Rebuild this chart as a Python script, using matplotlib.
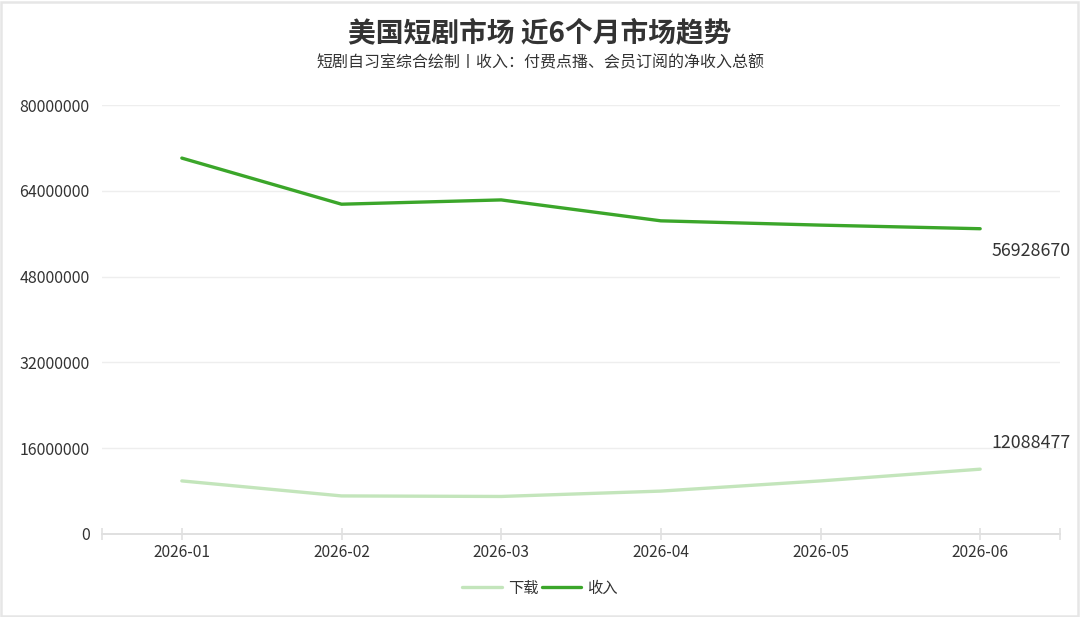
import matplotlib
matplotlib.use("Agg")
import matplotlib.pyplot as plt
from matplotlib.patches import Rectangle

plt.rcParams["font.family"] = ["Noto Sans CJK SC", "DejaVu Sans"]

months = ["2026-01", "2026-02", "2026-03", "2026-04", "2026-05", "2026-06"]
downloads = [9900000, 7100000, 7000000, 8000000, 9900000, 12088477]
revenue = [70100000, 61500000, 62300000, 58400000, 57600000, 56928670]
series_names = ["下载", "收入"]
y_ticks = [0, 16000000, 32000000, 48000000, 64000000, 80000000]

title = "美国短剧市场 近6个月市场趋势"
subtitle = "短剧自习室综合绘制丨收入：付费点播、会员订阅的净收入总额"

COLOR_DOWNLOAD = "#c3e5bb"
COLOR_REVENUE = "#3ba62a"
TEXT = "#333333"
GRID = "#eeeeee"
AXIS = "#e0e0e0"

W, H = 1080, 617
fig = plt.figure(figsize=(W / 100, H / 100), dpi=100)
fig.patch.set_facecolor("white")

# outer frame
fig.add_artist(Rectangle((1 / W, 1 / H), 1 - 3 / W, 1 - 3 / H, transform=fig.transFigure,
                         fill=False, edgecolor="#e6e6e6", linewidth=1.8))

left, right, bottom, top = 102, 1060, 534, 105
ax = fig.add_axes([left / W, 1 - bottom / H, (right - left) / W, (bottom - top) / H])

x = list(range(len(months)))
ax.plot(x, downloads, color=COLOR_DOWNLOAD, linewidth=2.4, solid_capstyle="round",
        label=series_names[0], zorder=3)
ax.plot(x, revenue, color=COLOR_REVENUE, linewidth=2.4, solid_capstyle="round",
        label=series_names[1], zorder=3)

ax.set_xlim(-0.5, len(months) - 0.5)
ax.set_ylim(0, y_ticks[-1])
ax.set_yticks(y_ticks)
ax.set_yticklabels([str(v) for v in y_ticks])
ax.grid(axis="y", color=GRID, linewidth=1)
ax.set_axisbelow(True)

for s in ["top", "right", "left"]:
    ax.spines[s].set_visible(False)
ax.spines["bottom"].set_color(AXIS)
ax.spines["bottom"].set_linewidth(1.4)

ax.tick_params(axis="y", length=0, pad=9, labelsize=11.5, labelcolor=TEXT)
ax.set_xticks(x)
ax.set_xticklabels(months)
ax.set_xticks([-0.5, len(months) - 0.5], minor=True)
ax.tick_params(axis="x", which="both", direction="inout", length=8, width=1.2,
               color=AXIS, pad=3, labelsize=11.2, labelcolor=TEXT)

# end labels
ax.annotate(str(revenue[-1]), (x[-1], revenue[-1]), xytext=(8, -16),
            textcoords="offset points", ha="left", va="center", fontsize=12.8, color=TEXT)
ax.annotate(str(downloads[-1]), (x[-1], downloads[-1]), xytext=(8, 19),
            textcoords="offset points", ha="left", va="center", fontsize=12.8, color=TEXT)

fig.text(0.5, 1 - 33 / H, title, ha="center", va="center", fontsize=20,
         fontweight="bold", color=TEXT)
fig.text(0.5, 1 - 63 / H, subtitle, ha="center", va="center", fontsize=11.5, color=TEXT)

fig.legend(loc="center", bbox_to_anchor=(0.5, 1 - 588 / H), ncol=2, frameon=False,
           fontsize=11, handlelength=2.6, handletextpad=0.4, columnspacing=0.2,
           labelcolor=TEXT)

fig.savefig("out.png", dpi=100, facecolor="white")
